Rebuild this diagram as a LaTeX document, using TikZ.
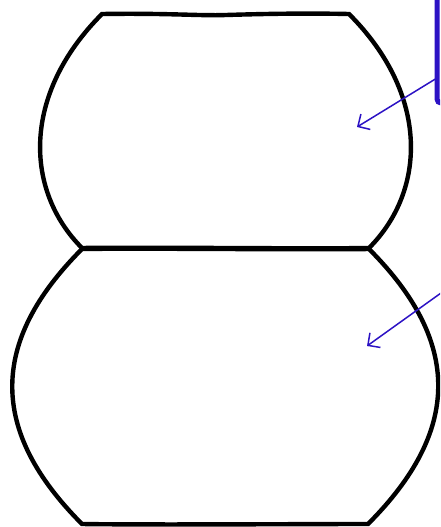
\documentclass[tikz,border=0pt]{standalone}
\usetikzlibrary{arrows.meta}
\definecolor{ink}{RGB}{44,18,196}
\tikzset{
  outline/.style={draw=black, line width=4.4pt, line join=miter},
  pointer/.style={draw=ink, line width=1.5pt, -{Straight Barb[length=9pt,width=18pt,line width=1.5pt]}},
  frame/.style={draw=ink, line width=5pt, rounded corners=4pt, outer sep=0pt, inner sep=0pt}
}
\begin{document}
\begin{tikzpicture}[x=1pt,y=-1pt]
\useasboundingbox (0,0) rectangle (440,527);
\clip (0,0) rectangle (440,527);
% top barrel
\draw[outline] (102,14) .. controls (170,13) and (200,16) .. (226,15)
  .. controls (260,14) and (300,13) .. (349,14)
  .. controls (430,95) and (426,191) .. (369,248)
  .. controls (300,249) and (150,247) .. (82,248)
  .. controls (25,191) and (21,95) .. (102,14) -- cycle;
% bottom barrel
\draw[outline] (82,249) .. controls (150,248) and (300,250) .. (369,249)
  .. controls (462,342) and (461,431) .. (368,524)
  .. controls (300,524) and (150,525) .. (82,524)
  .. controls (-11,431) and (-11,342) .. (82,249) -- cycle;
% partial box at top right
\node[frame, minimum width=120pt, minimum height=160pt, anchor=south west] (box) at (437,103) {};
\coordinate (a1s) at (box.west |- 0,78);
\coordinate (a1e) at (357,127);
\coordinate (a2s) at (441,293);
\coordinate (a2e) at (367,346);
\draw[pointer] (a1s) -- (a1e);
\draw[pointer] (a2s) -- (a2e);
\end{tikzpicture}
\end{document}
